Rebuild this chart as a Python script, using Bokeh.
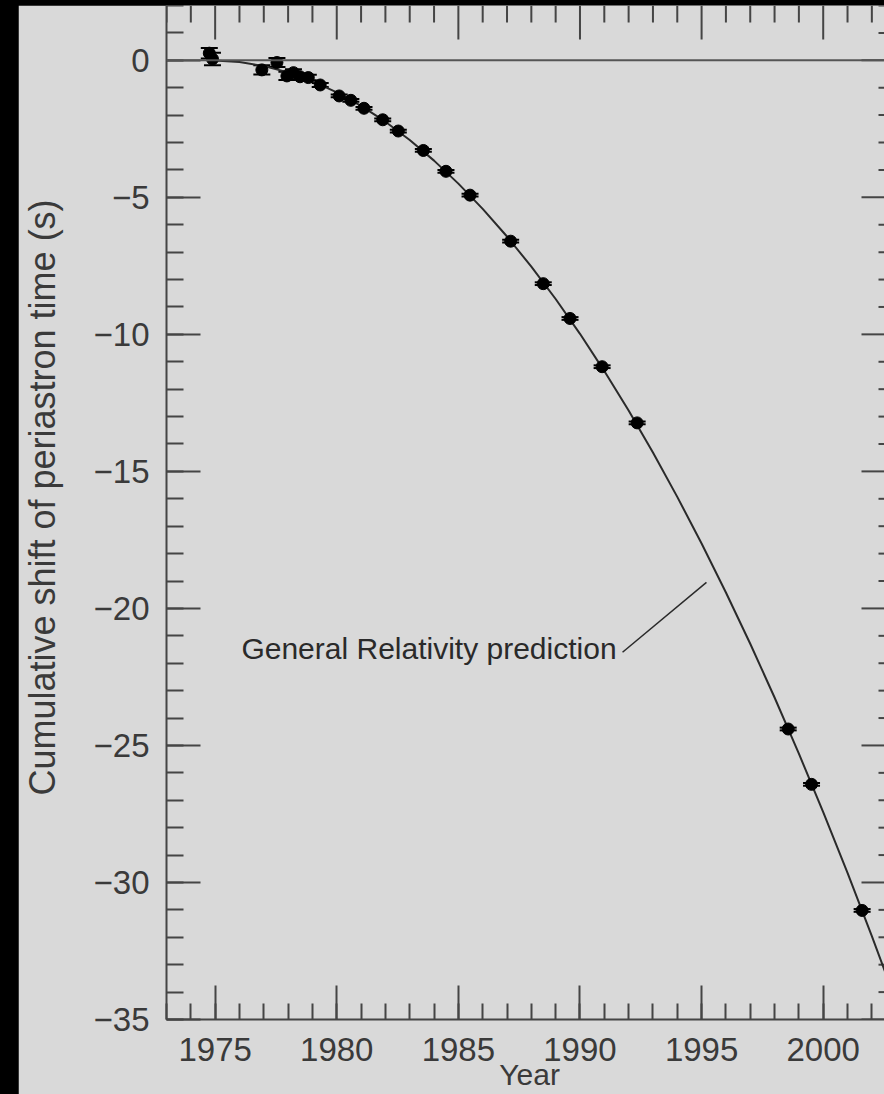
from bokeh.plotting import figure
from bokeh.models import (Range1d, LinearAxis, FixedTicker, Whisker, ColumnDataSource,
                          TeeHead, Label, Span)
from bokeh.layouts import column
from bokeh.embed import file_html
from bokeh.resources import INLINE

# ---- data ----
obs_year = [1974.76, 1974.89, 1976.92, 1977.54, 1977.95, 1978.22, 1978.49, 1978.83,
            1979.32, 1980.10, 1980.58, 1981.12, 1981.89, 1982.53, 1983.56, 1984.49,
            1985.48, 1987.15, 1988.49, 1989.59, 1990.91, 1992.35, 1998.56, 1999.52,
            2001.60]
obs_shift = [0.26, 0.05, -0.35, -0.08, -0.57, -0.45, -0.60, -0.63,
             -0.90, -1.30, -1.46, -1.75, -2.17, -2.58, -3.29, -4.05,
             -4.92, -6.60, -8.15, -9.42, -11.18, -13.23, -24.40, -26.42,
             -31.02]
obs_err = [0.19, 0.23, 0.17, 0.16, 0.15, 0.12, 0.12, 0.10,
           0.07, 0.05, 0.05, 0.05, 0.05, 0.05, 0.05, 0.05,
           0.05, 0.05, 0.05, 0.05, 0.05, 0.05, 0.05, 0.05,
           0.05]

gr_year = [1974.8, 1976, 1977, 1978, 1979, 1980, 1981, 1982, 1983, 1984, 1985,
           1986, 1987, 1988, 1989, 1990, 1991, 1992, 1993, 1994, 1995, 1996,
           1997, 1998, 1999, 2000, 2001, 2002, 2003]
gr_shift = [0.0, -0.06, -0.21, -0.44, -0.76, -1.17, -1.66, -2.24, -2.91, -3.66, -4.50,
            -5.42, -6.43, -7.53, -8.71, -9.98, -11.34, -12.78, -14.31, -15.93, -17.63,
            -19.42, -21.29, -23.25, -25.30, -27.43, -29.65, -31.96, -34.35]

x_major = [1975, 1980, 1985, 1990, 1995, 2000]
x_minor = list(range(1973, 2004))
y_major = [-35, -30, -25, -20, -15, -10, -5, 0]
y_minor = list(range(-35, 3))
y_tick_text = {v: ("\u2212" + str(-v) if v < 0 else str(v)) for v in y_major}

x_lo, x_hi = 1973, 2002.52
y_lo, y_hi = -35, 2

# ---- style / layout ----
BG = "#d9d9d9"
AX = "#454545"
TXT = "#3a3a3a"
FONT = "Liberation Sans"
MARGIN_L = 18
FIG_W, FIG_H = 884 - MARGIN_L, 1089
BORDER_L, BORDER_B = 166 - MARGIN_L, 75
FRAME_W = FIG_W - BORDER_L
FRAME_H = FIG_H - BORDER_B
px_x = FRAME_W / (x_hi - x_lo)   # pixels per year
px_y = FRAME_H / (y_hi - y_lo)   # pixels per second

p = figure(width=FIG_W, height=FIG_H, x_range=Range1d(x_lo, x_hi), y_range=Range1d(y_lo, y_hi),
           output_backend="svg", toolbar_location=None,
           x_axis_location=None, y_axis_location=None,
           min_border_left=BORDER_L, min_border_right=0, min_border_top=0,
           min_border_bottom=BORDER_B,
           background_fill_color=BG, border_fill_color=BG, outline_line_color=None)
p.xgrid.visible = False
p.ygrid.visible = False
p.margin = (5, 0, 0, MARGIN_L)


def style_axis(ax, major_in, minor_in):
    ax.major_tick_in = major_in
    ax.major_tick_out = 0
    ax.minor_tick_in = minor_in
    ax.minor_tick_out = 0
    ax.major_tick_line_color = AX
    ax.minor_tick_line_color = AX
    ax.major_tick_line_width = 2
    ax.minor_tick_line_width = 2
    ax.axis_line_color = AX
    ax.axis_line_width = 2
    ax.major_label_text_font = FONT
    ax.major_label_text_font_size = "33px"
    ax.major_label_text_color = TXT
    ax.axis_label_text_font = FONT
    ax.axis_label_text_font_style = "normal"
    ax.axis_label_text_color = TXT


left = LinearAxis(ticker=FixedTicker(ticks=y_major, minor_ticks=y_minor),
                  major_label_overrides=y_tick_text)
style_axis(left, 34, 17)
left.major_label_standoff = 17
left.axis_label = "\u00a0\u00a0\u00a0Cumulative shift of periastron time (s)"
left.axis_label_text_font_size = "36px"
left.axis_label_standoff = 28
p.add_layout(left, "left")

bottom = LinearAxis(ticker=FixedTicker(ticks=x_major, minor_ticks=x_minor))
style_axis(bottom, 34, 16)
bottom.major_label_standoff = 18
bottom.axis_label = "\u00a0Year"
bottom.axis_label_text_font_size = "30px"
bottom.axis_label_standoff = -6
p.add_layout(bottom, "below")

# inward ticks on the top and right edges of the frame
top_x, top_y0, top_y1 = [], [], []
for t in x_minor:
    if x_lo <= t <= x_hi:
        L = 34 if t in x_major else 17
        top_x.append(t)
        top_y0.append(y_hi)
        top_y1.append(y_hi - L / px_y)
p.segment(x0=top_x, y0=top_y0, x1=top_x, y1=top_y1, line_color=AX, line_width=2)

r_y, r_x0, r_x1 = [], [], []
for v in y_minor:
    L = 23 if v in y_major else 6
    r_y.append(v)
    r_x0.append(x_hi)
    r_x1.append(x_hi - L / px_x)
p.segment(x0=r_x0, y0=r_y, x1=r_x1, y1=r_y, line_color=AX, line_width=2)

# zero line
p.add_layout(Span(location=0, dimension="width", line_color="#555555", line_width=2))

# GR prediction curve
p.line(gr_year, gr_shift, line_color="#2a2a2a", line_width=2)

# observations with error bars
src = ColumnDataSource(dict(
    x=obs_year, y=obs_shift,
    upper=[s + e for s, e in zip(obs_shift, obs_err)],
    lower=[s - e for s, e in zip(obs_shift, obs_err)],
))
p.add_layout(Whisker(base="x", upper="upper", lower="lower", source=src,
                     line_color="black", line_width=2,
                     upper_head=TeeHead(size=17, line_color="black", line_width=2),
                     lower_head=TeeHead(size=17, line_color="black", line_width=2)))
p.scatter("x", "y", source=src, size=12, fill_color="black", line_color="black")

# annotation
p.add_layout(Label(x=1976.08, y=-21.45, text="General Relativity prediction",
                   text_font=FONT, text_font_size="30px", text_color="#2a2a2a",
                   text_align="left", text_baseline="middle"))
p.line([1991.75, 1995.2], [-21.6, -19.05], line_color="#2a2a2a", line_width=1.5)

page = column(p, styles={"background-color": "black"})
open("out.html", "w").write(file_html(page, INLINE))
